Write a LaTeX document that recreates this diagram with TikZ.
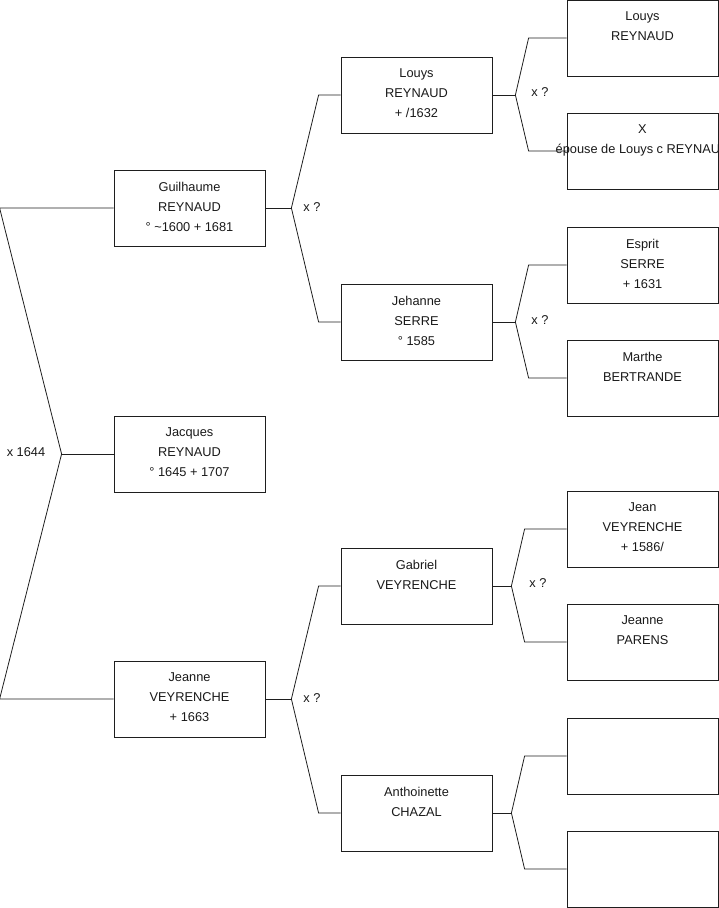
\documentclass[tikz,border=0pt]{standalone}
\usepackage{fontspec}
\setmainfont{Liberation Sans}
\usetikzlibrary{positioning}
\definecolor{line}{RGB}{30,30,30}
\definecolor{txt}{RGB}{25,25,25}
\tikzset{
  ind/.style={draw=line,thick,minimum width=151,minimum height=76,inner sep=0},
  who/.style={anchor=north,yshift=-12,inner sep=0,align=center,text=txt,
    font=\fontsize{12.8}{20}\selectfont},
  link/.style={draw=line,thick},
  union/.style={text=txt,font=\fontsize{12.8}{15}\selectfont},
}
\begin{document}
\begin{tikzpicture}[x=1pt,y=-1pt]
  \useasboundingbox (0,0) rectangle (719,908);
  % generation 1
  \node[ind,label={[who]north:{Jacques\\REYNAUD\\° 1645 + 1707}}] (jac) at (189.5,454) {};
  % generation 2
  \node[ind,label={[who]north:{Guilhaume\\REYNAUD\\° {\char"7E}1600 + 1681}}] (gui) at (189.5,208) {};
  \node[ind,label={[who]north:{Jeanne\\VEYRENCHE\\+ 1663}}] (jve) at (189.5,699) {};
  % generation 3
  \node[ind,label={[who]north:{Louys\\REYNAUD\\+ /1632}}] (lou) at (416.5,95) {};
  \node[ind,label={[who]north:{Jehanne\\SERRE\\° 1585}}] (jeh) at (416.5,322) {};
  \node[ind,label={[who]north:{Gabriel\\VEYRENCHE}}] (gab) at (416.5,586) {};
  \node[ind,label={[who]north:{Anthoinette\\CHAZAL}}] (ant) at (416.5,813) {};
  % generation 4
  \node[ind,label={[who]north:{Louys\\REYNAUD}}] (lou2) at (642.5,38) {};
  \node[ind,label={[who]north:{X\\épouse de Louys c REYNAUD}}] (xep) at (642.5,151) {};
  \node[ind,label={[who]north:{Esprit\\SERRE\\+ 1631}}] (esp) at (642.5,265) {};
  \node[ind,label={[who]north:{Marthe\\BERTRANDE}}] (mar) at (642.5,378) {};
  \node[ind,label={[who]north:{Jean\\VEYRENCHE\\+ 1586/}}] (jea) at (642.5,529) {};
  \node[ind,label={[who]north:{Jeanne\\PARENS}}] (par) at (642.5,642) {};
  \node[ind] (emp1) at (642.5,756) {};
  \node[ind] (emp2) at (642.5,869) {};

  % couples
  \draw[link] (jac.west) -- ++(-52,0) coordinate (cjac);
  \draw[link] (gui.west) -- ++(-114,0) -- (cjac) -- ([xshift=-114]jve.west) -- (jve.west);
  \node[union] (m1) at (26,452) {x 1644};

  \draw[link] (gui.east) -- ++(26,0) coordinate (cgui);
  \draw[link] (lou.west) -- ++(-22,0) -- (cgui) -- ([xshift=-22]jeh.west) -- (jeh.west);
  \node[union] (m2) at (312,207) {x ?};

  \draw[link] (jve.east) -- ++(26,0) coordinate (cjve);
  \draw[link] (gab.west) -- ++(-22,0) -- (cjve) -- ([xshift=-22]ant.west) -- (ant.west);
  \node[union] (m3) at (312,698) {x ?};

  \draw[link] (lou.east) -- ++(23,0) coordinate (clou);
  \draw[link] (lou2.west) -- ++(-38,0) -- (clou) -- ([xshift=-38]xep.west) -- (xep.west);
  \node[union] (m4) at (540,92) {x ?};

  \draw[link] (jeh.east) -- ++(23,0) coordinate (cjeh);
  \draw[link] (esp.west) -- ++(-38,0) -- (cjeh) -- ([xshift=-38]mar.west) -- (mar.west);
  \node[union] (m5) at (540,320) {x ?};

  \draw[link] (gab.east) -- ++(19,0) coordinate (cgab);
  \draw[link] (jea.west) -- ++(-42,0) -- (cgab) -- ([xshift=-42]par.west) -- (par.west);
  \node[union] (m6) at (538,583) {x ?};

  \draw[link] (ant.east) -- ++(19,0) coordinate (cant);
  \draw[link] (emp1.west) -- ++(-42,0) -- (cant) -- ([xshift=-42]emp2.west) -- (emp2.west);
\end{tikzpicture}
\end{document}
